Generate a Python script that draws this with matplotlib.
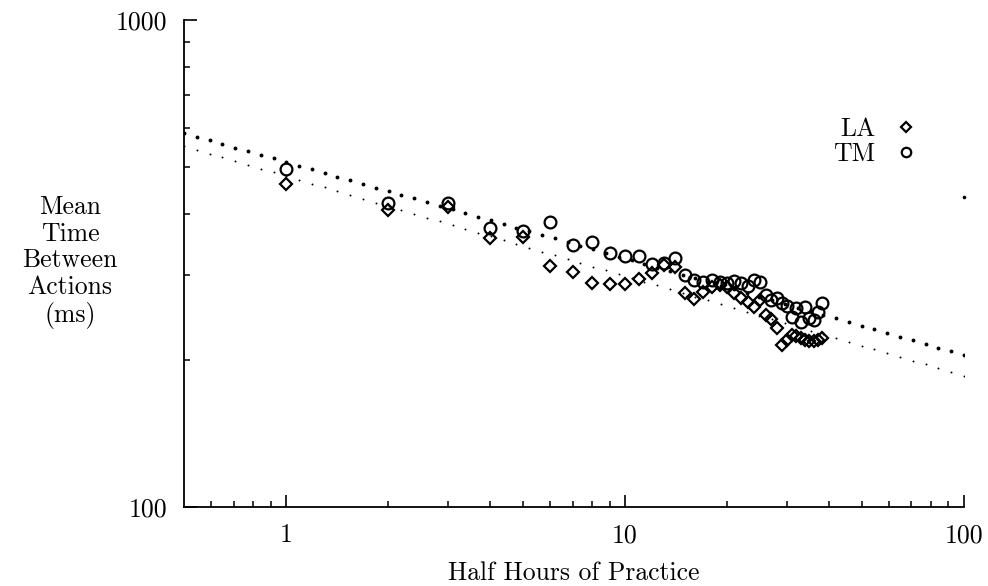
import numpy as np
import matplotlib
matplotlib.use('Agg')
import matplotlib.pyplot as plt
from matplotlib.ticker import FixedLocator, FixedFormatter, NullFormatter

plt.rcParams['font.family'] = ['cmr10', 'DejaVu Serif']
plt.rcParams['axes.formatter.use_mathtext'] = True

# half hours of practice
sesiones = list(range(1, 39))

# mean time between actions (ms)
tm = [494, 421, 421, 374, 369, 385, 345, 350, 332, 328, 328, 316, 317, 325,
      300, 292, 290, 292, 290, 288, 291, 288, 284, 292, 290, 272, 266, 269,
      262, 259, 246, 256, 240, 257, 244, 242, 251, 262]
la = [460, 407, 413, 357, 358, 313, 304, 288, 287, 287, 294, 302, 314, 311,
      275, 267, 276, 283, 286, 283, 275, 269, 264, 257, 266, 248, 243, 233,
      215, 220, 226, 224, 222, 220, 219, 219, 220, 222]

# power law fits  T = a * N^b
ajuste_tm = (511, -0.198)
ajuste_la = (478, -0.205)

# stray point at the right edge
punto_x = [100]
punto_y = [433]

fig = plt.figure(figsize=(9.88, 5.86), dpi=100)
ax = fig.add_axes([184/988, 1-507/586, (964-184)/988, (507-20)/586])
ax.set_xscale('log')
ax.set_yscale('log')

#Lineas de ajuste punteadas
xs = np.geomspace(0.5, 100, 62)
ax.plot(xs, ajuste_tm[0]*xs**ajuste_tm[1], 'o', ms=2.8, color='black', mew=0)
ax.plot(xs, ajuste_la[0]*xs**ajuste_la[1], 'o', ms=1.4, color='black', mew=0)
ax.plot(punto_x, punto_y, 'o', ms=2.6, color='black', mew=0, clip_on=False)

#Puntos de datos
h_la, = ax.plot(sesiones, la, 'D', ms=6, mfc='none', mec='black', mew=1.6,
                linestyle='none', label='LA')
h_tm, = ax.plot(sesiones, tm, 'o', ms=8.5, mfc='none', mec='black', mew=1.6,
                linestyle='none', label='TM')

ax.set_xlim(0.5, 100)
ax.set_ylim(100, 1000)

for s in ['top', 'right']:
    ax.spines[s].set_visible(False)
for s in ['left', 'bottom']:
    ax.spines[s].set_linewidth(1.3)

ax.xaxis.set_major_locator(FixedLocator([1, 10, 100]))
ax.xaxis.set_major_formatter(FixedFormatter(['1', '10', '100']))
ax.xaxis.set_minor_locator(FixedLocator([0.6, 0.7, 0.8, 0.9] + list(range(2, 10)) + list(range(20, 100, 10))))
ax.xaxis.set_minor_formatter(NullFormatter())
ax.yaxis.set_major_locator(FixedLocator([100, 1000]))
ax.yaxis.set_major_formatter(FixedFormatter(['100', '1000']))
ax.yaxis.set_minor_locator(FixedLocator(list(range(200, 1000, 100))))
ax.yaxis.set_minor_formatter(NullFormatter())

ax.tick_params(which='major', direction='in', length=9, width=1.2, labelsize=18.5, pad=12)
ax.tick_params(which='minor', direction='in', length=4.5, width=1.1)

ax.set_xlabel('Half Hours of Practice', fontsize=18.5, labelpad=10)
fig.text(70/988, 1-262/586, 'Mean\nTime\nBetween\nActions\n(ms)', fontsize=18.5,
         ha='center', va='center', linespacing=1.15)

ax.legend(handles=[h_la, h_tm], loc='upper right', bbox_to_anchor=(932/988, 1-104/586),
          bbox_transform=fig.transFigure, frameon=False, markerfirst=False,
          markerscale=0.8, fontsize=18.5, handletextpad=0.7, borderpad=0,
          labelspacing=0.05, handlelength=1.0)

fig.savefig('out.png', dpi=100)
